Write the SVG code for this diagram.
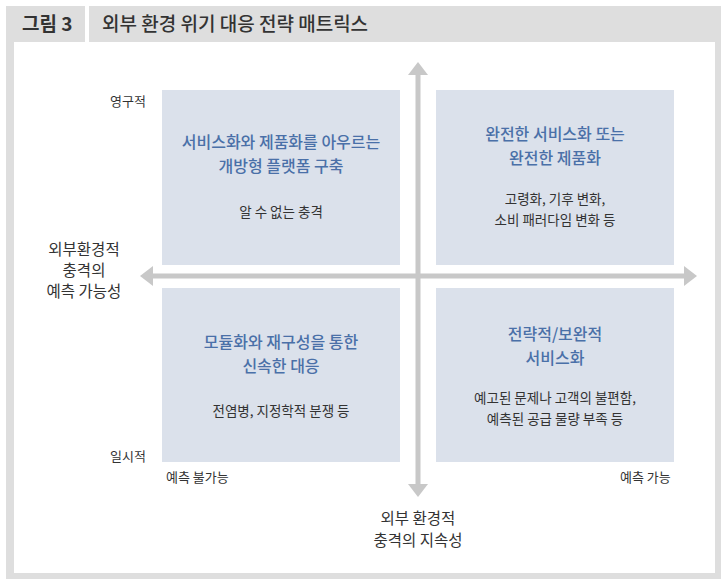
<svg xmlns="http://www.w3.org/2000/svg" width="727" height="585" viewBox="0 0 727 585">
<style>
text{font-family:"Noto Sans CJK KR","Noto Sans",sans-serif;fill:#333}
.q{fill:#dbe1eb}
.t{fill:#4a70a8;font-size:16px;font-weight:500;text-anchor:middle}
.b{font-size:13.5px;text-anchor:middle}
.l{font-size:13px}
.ax{stroke:#c8c8c8;stroke-width:5;fill:none}
.ah{fill:#c8c8c8}
</style>
<rect x="0" y="0" width="727" height="585" fill="#fff"/>
<rect x="6" y="6" width="715" height="573" fill="#dedede"/>
<rect x="85" y="6" width="4" height="36" fill="#fff"/>
<rect x="14" y="42" width="701" height="531" fill="#fff"/>
<text x="22" y="31" font-size="19" font-weight="bold" fill="#222">그림 3</text>
<text x="102" y="31" font-size="19" font-weight="500" fill="#222">외부 환경 위기 대응 전략 매트릭스</text>
<g id="connectors">
<line class="ax" x1="150" y1="276" x2="686" y2="276"/>
<polygon class="ah" points="140,276 153,266 153,286"/>
<polygon class="ah" points="697,276 684,266 684,286"/>
<line class="ax" x1="418" y1="72" x2="418" y2="486"/>
<polygon class="ah" points="418,62 408,75 428,75"/>
<polygon class="ah" points="418,497 408,484 428,484"/>
</g>
<g id="q1"><rect class="q" x="162" y="90" width="238" height="175"/>
<text class="t" x="281" y="148">서비스화와 제품화를 아우르는</text>
<text class="t" x="281" y="172">개방형 플랫폼 구축</text>
<text class="b" x="281" y="217">알 수 없는 충격</text></g>
<g id="q2"><rect class="q" x="436" y="90" width="238" height="175"/>
<text class="t" x="555" y="140">완전한 서비스화 또는</text>
<text class="t" x="555" y="164">완전한 제품화</text>
<text class="b" x="555" y="204">고령화, 기후 변화,</text>
<text class="b" x="555" y="225">소비 패러다임 변화 등</text></g>
<g id="q3"><rect class="q" x="162" y="288" width="238" height="174"/>
<text class="t" x="281" y="348">모듈화와 재구성을 통한</text>
<text class="t" x="281" y="372">신속한 대응</text>
<text class="b" x="281" y="416">전염병, 지정학적 분쟁 등</text></g>
<g id="q4"><rect class="q" x="436" y="288" width="238" height="174"/>
<text class="t" x="555" y="340">전략적/보완적</text>
<text class="t" x="555" y="364">서비스화</text>
<text class="b" x="555" y="403">예고된 문제나 고객의 불편함,</text>
<text class="b" x="555" y="424">예측된 공급 물량 부족 등</text></g>
<g id="labels">
<text class="l" x="110" y="106">영구적</text>
<text class="l" x="110" y="461">일시적</text>
<text class="l" x="166" y="482">예측 불가능</text>
<text class="l" x="620" y="482">예측 가능</text>
<text font-size="15.5" x="84" y="255" text-anchor="middle">외부환경적</text>
<text font-size="15.5" x="84" y="276" text-anchor="middle">충격의</text>
<text font-size="15.5" x="84" y="297" text-anchor="middle">예측 가능성</text>
<text font-size="15.5" x="418" y="524" text-anchor="middle">외부 환경적</text>
<text font-size="15.5" x="418" y="546" text-anchor="middle">충격의 지속성</text>
</g>
</svg>
